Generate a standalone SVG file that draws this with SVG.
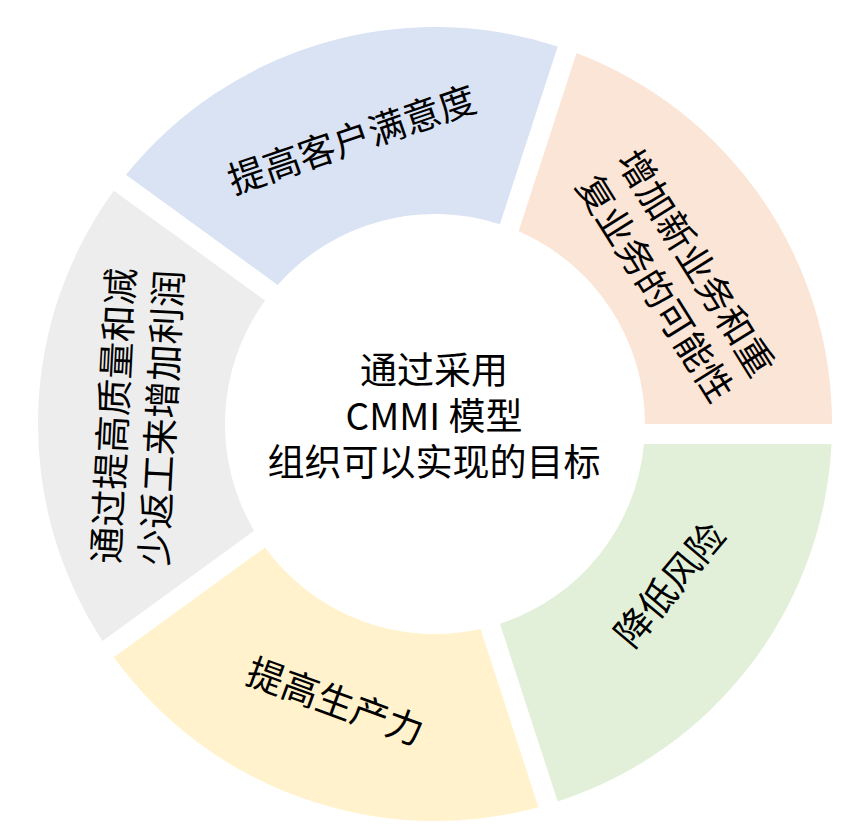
<svg xmlns="http://www.w3.org/2000/svg" width="867" height="833" viewBox="0 0 867 833">
<style>
  .t { font-family: "Noto Sans CJK SC", "Noto Sans", sans-serif; font-size: 37px; fill: #000; text-anchor: middle; }
</style>
<rect width="867" height="833" fill="#ffffff"/>
<g id="seg-peach">
  <path d="M576.55,53.08 A397,397 0 0 1 832,424 L645,424 A210,210 0 0 0 518.62,231.36 Z" fill="#FBE5D6"/>
  <g transform="translate(675,276) rotate(58)">
    <text class="t" x="0" y="-11">增加新业务和重</text>
    <text class="t" x="0" y="37">复业务的可能性</text>
  </g>
</g>
<g id="seg-green">
  <path d="M831.5,444 A397,397 0 0 1 557.68,801.57 L499.89,623.72 A210,210 0 0 0 644.05,444 Z" fill="#E2F0D9"/>
  <text class="t" transform="translate(670,585) rotate(-50)" x="0" y="13">降低风险</text>
</g>
<g id="seg-yellow">
  <path d="M538.51,807.28 A397,397 0 0 1 113.82,657.35 L265.11,547.44 A210,210 0 0 0 480.58,629 Z" fill="#FFF2CC"/>
  <text class="t" transform="translate(335,702) rotate(20)" x="0" y="13">提高生产力</text>
</g>
<g id="seg-gray">
  <path d="M102.46,640.88 A397,397 0 0 1 113.82,190.65 L265.11,300.56 A210,210 0 0 0 254.11,530.7 Z" fill="#EDEDED"/>
  <g transform="translate(138,417) rotate(-87)">
    <text class="t" x="0" y="-11">通过提高质量和减</text>
    <text class="t" x="0" y="37">少返工来增加利润</text>
  </g>
</g>
<g id="seg-blue">
  <path d="M125.98,174.76 A397,397 0 0 1 557.68,46.43 L499.89,224.28 A210,210 0 0 0 277.63,284.94 Z" fill="#DAE3F3"/>
  <text class="t" transform="translate(352,140) rotate(-19)" x="0" y="13">提高客户满意度</text>
</g>
<g id="center">
  <text class="t" x="434" y="384">通过采用</text>
  <text class="t" x="434" y="430">CMMI 模型</text>
  <text class="t" x="434" y="476">组织可以实现的目标</text>
</g>
<g id="connectors"></g>
</svg>
